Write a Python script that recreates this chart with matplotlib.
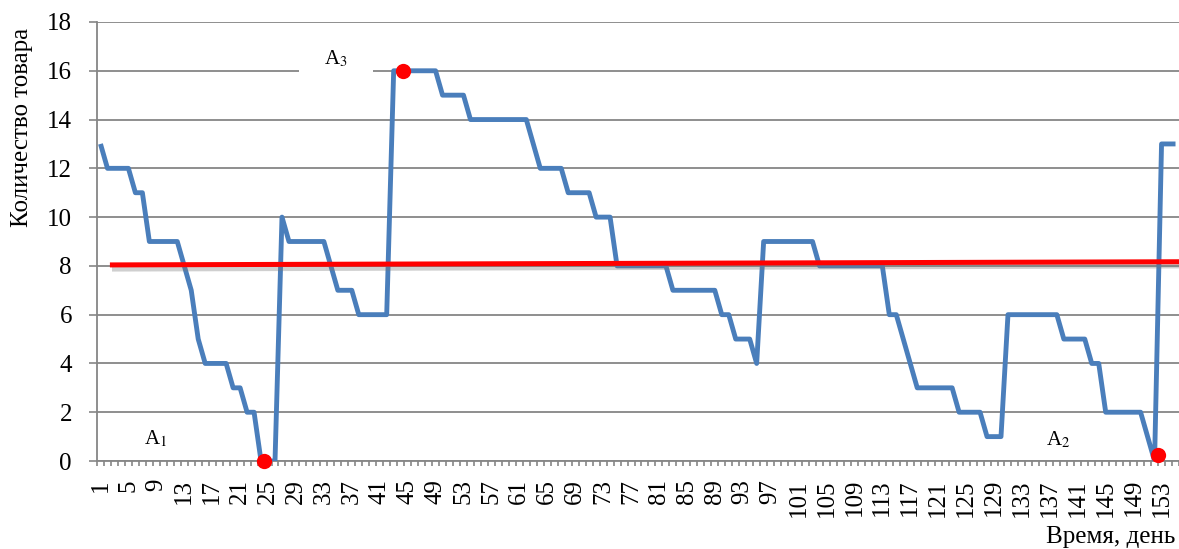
import numpy as np
import matplotlib
matplotlib.use("Agg")
import matplotlib.pyplot as plt
import matplotlib.patheffects as pe

plt.rcParams['font.family'] = ['Liberation Serif', 'DejaVu Serif']
plt.rcParams['mathtext.fontset'] = 'stix'

# Stock level per day
days = np.arange(1, 156)
stock = [13, 12, 12, 12, 12, 11, 11, 9, 9, 9,
         9, 9, 8, 7, 5, 4, 4, 4, 4, 3,
         3, 2, 2, 0, 0, 0, 10, 9, 9, 9,
         9, 9, 9, 8, 7, 7, 7, 6, 6, 6,
         6, 6, 16, 16, 16, 16, 16, 16, 16, 15,
         15, 15, 15, 14, 14, 14, 14, 14, 14, 14,
         14, 14, 13, 12, 12, 12, 12, 11, 11, 11,
         11, 10, 10, 10, 8, 8, 8, 8, 8, 8,
         8, 8, 7, 7, 7, 7, 7, 7, 7, 6,
         6, 5, 5, 5, 4, 9, 9, 9, 9, 9,
         9, 9, 9, 8, 8, 8, 8, 8, 8, 8,
         8, 8, 8, 6, 6, 5, 4, 3, 3, 3,
         3, 3, 3, 2, 2, 2, 2, 1, 1, 1,
         6, 6, 6, 6, 6, 6, 6, 6, 5, 5,
         5, 5, 4, 4, 2, 2, 2, 2, 2, 2,
         1, 0, 13, 13, 13]

# average level line (drawn by hand in the original)
avg_x = [2.35, 155.5]
avg_y = [8.04, 8.17]

# highlighted points
dot_x = [24.4, 44.3, 152.5]
dot_y = [0, 16, 0.25]

# area labels
lab_text = ['A$_1$', 'A$_2$', 'A$_3$']
lab_x = [8.95, 138.2, 34.7]
lab_y = [0.9, 0.86, 16.5]

tick_days = np.arange(1, 156, 4)

fig = plt.figure(figsize=(11.79, 5.49), dpi=100)
ax = fig.add_axes([97 / 1179, 88 / 549, 1082 / 1179, 439 / 549])

grid_c = '#868686'
ax.set_xlim(0.5, 155.5)
ax.set_ylim(0, 18)
ax.set_yticks(np.arange(0, 19, 2))
ax.yaxis.grid(True, color=grid_c, lw=1.3)
ax.set_axisbelow(True)

for s in ['top', 'right']:
    ax.spines[s].set_visible(False)
for s in ['left', 'bottom']:
    ax.spines[s].set_color(grid_c)
    ax.spines[s].set_linewidth(1.3)

ax.set_xticks(tick_days)
ax.set_xticklabels([str(d) for d in tick_days], rotation=90)
ax.set_xticks(np.arange(0.5, 156, 1), minor=True)
ax.tick_params(axis='x', which='major', length=0, pad=13, labelsize=18)
ax.tick_params(axis='x', which='minor', length=3.5, width=1.2, color=grid_c)
ax.tick_params(axis='y', length=6, width=1.2, color=grid_c, pad=12, labelsize=18)

ax.plot(days, stock, color='#4A7EBB', lw=3.5, solid_joinstyle='round',
        solid_capstyle='butt', zorder=3)

ax.plot(avg_x, avg_y, color='#FF0000', lw=3.6, solid_capstyle='butt', zorder=4,
        path_effects=[pe.SimpleLineShadow(offset=(1.5, -3), shadow_color='#777777', alpha=0.35),
                      pe.Normal()])

ax.plot(dot_x, dot_y, 'o', color='#FF0000', ms=11, mec='none', zorder=5, clip_on=False)

for t, x, y in zip(lab_text, lab_x, lab_y):
    box = None
    if y > 10:
        box = dict(boxstyle='square,pad=1.2', fc='white', ec='none')
    ax.text(x, y, t, fontsize=15, ha='center', va='center', bbox=box, zorder=3)

fig.text(22 / 1179, 1 - 127 / 549, 'Количество товара', rotation=90,
         ha='center', va='center', fontsize=18)
fig.text(1175 / 1179, 1 - 537 / 549, 'Время, день', ha='right', va='center', fontsize=18)

fig.savefig('out.png', dpi=100)
